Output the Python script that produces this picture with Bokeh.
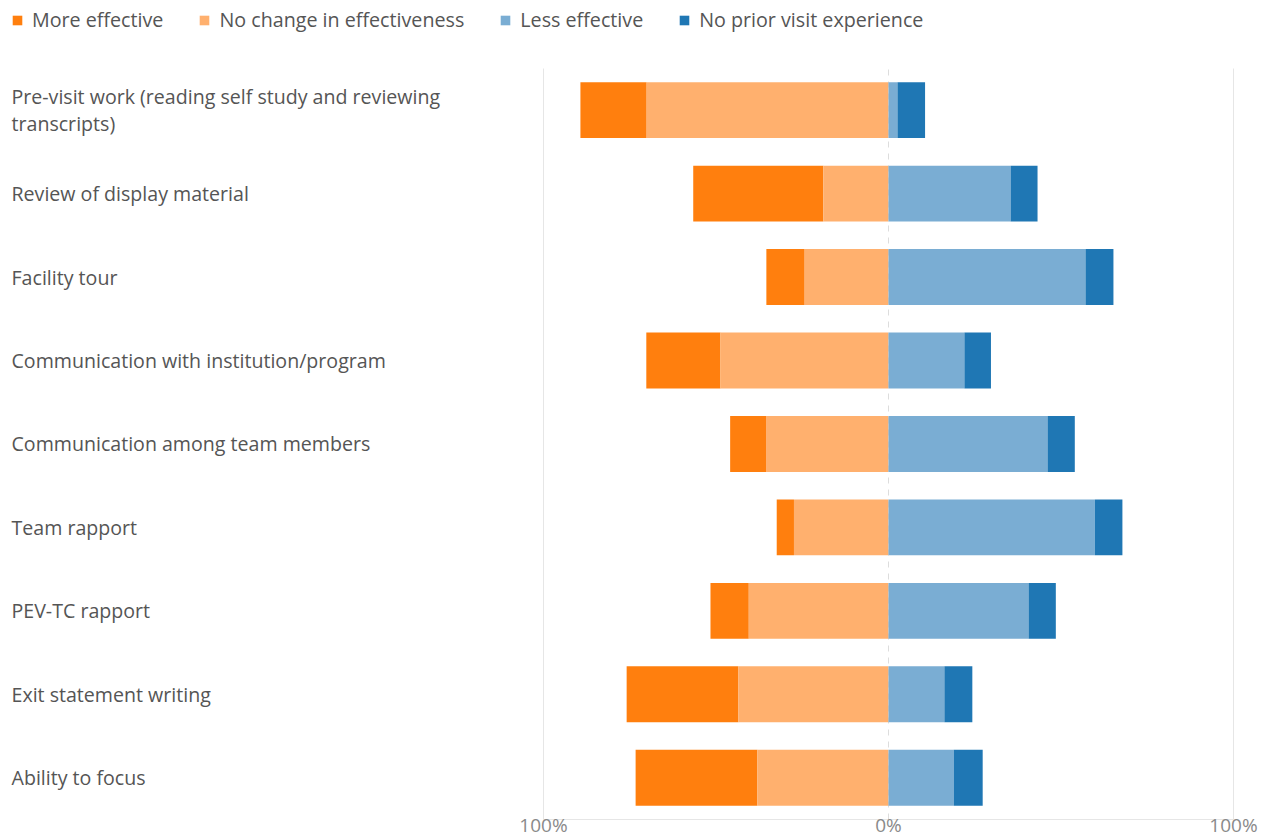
import numpy as np
from bokeh.plotting import figure
from bokeh.models import (ColumnDataSource, Range1d, FixedTicker,
                          CustomJSTickFormatter, Grid, Legend, LegendItem)
from bokeh.core.properties import value
from bokeh.embed import file_html
from bokeh.resources import INLINE

categories = [
    "Pre-visit work (reading self study and reviewing\ntranscripts)",
    "Review of display material",
    "Facility tour",
    "Communication with institution/program",
    "Communication among team members",
    "Team rapport",
    "PEV-TC rapport",
    "Exit statement writing",
    "Ability to focus",
]
more_effective = [19.2, 37.7, 11.1, 21.5, 10.4, 5.0, 11.1, 32.4, 35.3]
no_change = [70.1, 18.9, 24.3, 48.7, 35.5, 27.4, 40.5, 43.5, 38.0]
less_effective = [2.6, 35.4, 57.1, 22.0, 46.1, 59.8, 40.6, 16.2, 18.9]
no_prior = [8.0, 7.8, 8.1, 7.7, 7.9, 8.0, 7.9, 8.1, 8.4]
series_names = ["More effective", "No change in effectiveness",
                "Less effective", "No prior visit experience"]
tick_values = [-100, 0, 100]

colors = ["#ff7f0e", "#ffb06e", "#7aadd3", "#1f77b4"]
FONT = "Open Sans"
TEXT_COLOR = "#555555"
FS = "19.6px"

n = len(categories)
ypos = np.arange(n)[::-1].astype(float)   # first category at top
me = np.array(more_effective)
nc = np.array(no_change)
le = np.array(less_effective)
npv = np.array(no_prior)

src = ColumnDataSource(dict(
    y=ypos,
    me_l=-(nc + me), me_r=-nc,
    nc_l=-nc, nc_r=np.zeros_like(nc),
    le_l=np.zeros_like(le), le_r=le,
    np_l=le, np_r=le + npv,
))

W, H = 1270, 840
plot_left_px, plot_right_px = 543, 1233
px_per_unit = (plot_right_px - plot_left_px) / 200.0
x_start = -100 - plot_left_px / px_per_unit
x_end = x_start + W / px_per_unit

frame_h = 820
top_gap = 68
pitch = (frame_h - top_gap) / n
y_start = -0.5
y_end = n - 0.5 + top_gap / pitch

p = figure(width=W, height=H, output_backend="svg", toolbar_location=None,
           x_range=Range1d(x_start, x_end),
           y_range=Range1d(y_start, y_end),
           y_axis_location=None,
           min_border_left=0, min_border_right=0, min_border_top=0,
           min_border_bottom=H - frame_h, outline_line_color=None)

bar_h = 0.67
r1 = p.hbar(y="y", left="me_l", right="me_r", height=bar_h, source=src,
            fill_color=colors[0], line_color=None)
r2 = p.hbar(y="y", left="nc_l", right="nc_r", height=bar_h, source=src,
            fill_color=colors[1], line_color=None)
r3 = p.hbar(y="y", left="le_l", right="le_r", height=bar_h, source=src,
            fill_color=colors[2], line_color=None)
r4 = p.hbar(y="y", left="np_l", right="np_r", height=bar_h, source=src,
            fill_color=colors[3], line_color=None)

# category labels, left aligned
lab_src = ColumnDataSource(dict(cat=categories, y=ypos,
                                x=[x_start + 11 / px_per_unit] * n))
p.text(x="x", y="y", text="cat", source=lab_src, text_align="left",
       text_baseline="middle", text_font=value(FONT), text_font_size=FS,
       text_color=TEXT_COLOR, text_line_height=1.0)

# axes and grids
p.xaxis.ticker = FixedTicker(ticks=tick_values)
p.xaxis.formatter = CustomJSTickFormatter(code="return Math.abs(tick) + '%';")
p.xaxis.bounds = (-100, 100)
p.xaxis.axis_line_color = "#e6e6e6"
p.xaxis.major_tick_line_color = None
p.xaxis.minor_tick_line_color = None
p.xaxis.major_tick_out = 0
p.xaxis.minor_tick_out = 0
p.xaxis.major_label_standoff = -8
p.xaxis.major_label_text_font = FONT
p.xaxis.major_label_text_font_size = "19px"
p.xaxis.major_label_text_color = "#8a8a8a"

grid_cross = (-0.5, n - 0.5)
p.xgrid.ticker = FixedTicker(ticks=[-100, 100])
p.xgrid.grid_line_color = "#e6e6e6"
p.xgrid.cross_bounds = grid_cross
p.ygrid.grid_line_color = None
zero_grid = Grid(dimension=0, ticker=FixedTicker(ticks=[0]), cross_bounds=grid_cross,
                 grid_line_color="#dddddd", grid_line_dash="6 6")
p.add_layout(zero_grid)

legend = Legend(items=[LegendItem(label=s, renderers=[r]) for s, r in
                       zip(series_names, [r1, r2, r3, r4])],
                orientation="horizontal",
                location=(11, frame_h - 34),
                glyph_width=12, glyph_height=12, label_standoff=9,
                spacing=35, padding=0, margin=0,
                border_line_color=None, background_fill_alpha=0,
                label_text_font=FONT, label_text_font_size="19.7px",
                label_text_color=TEXT_COLOR)
p.add_layout(legend, "center")

open("out.html", "w").write(file_html(p, INLINE))
